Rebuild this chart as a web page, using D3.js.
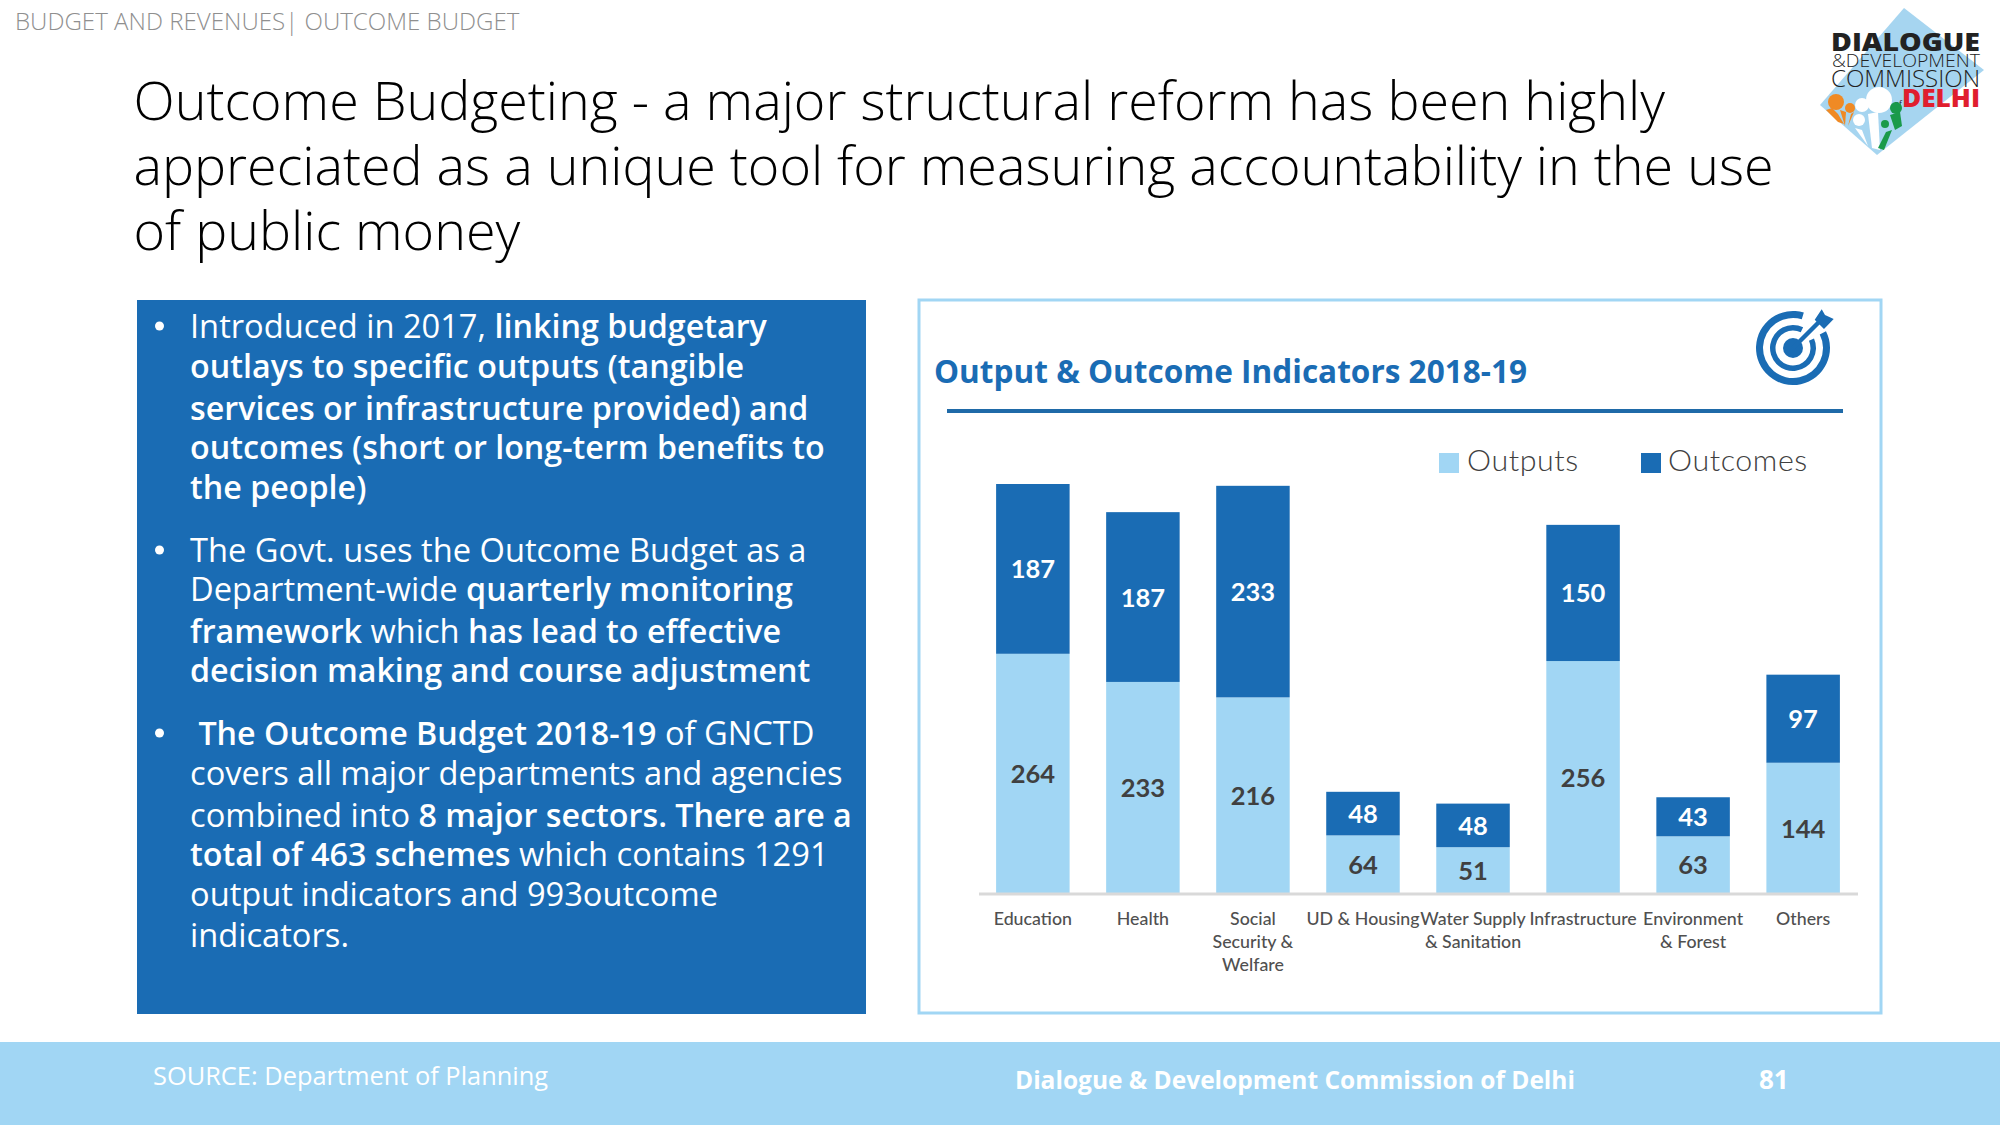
<!DOCTYPE html>
<html><head><meta charset="utf-8">
<script src="https://cdn.jsdelivr.net/npm/d3@7/dist/d3.min.js"></script>
<style>
html,body{margin:0;padding:0;background:#fff}
svg{display:block}
text{font-family:"Open Sans",sans-serif}
</style></head><body>
<svg id="c" width="2000" height="1125"></svg>
<script>
const categories=[["Education"],["Health"],["Social","Security &","Welfare"],["UD & Housing"],["Water Supply","& Sanitation"],["Infrastructure"],["Environment","& Forest"],["Others"]];
const outputs=[264,233,216,64,51,256,63,144];
const outcomes=[187,187,233,48,48,150,43,97];
const seriesNames=["Outputs","Outcomes"];
const titleLines=["Outcome Budgeting - a major structural reform has been highly","appreciated as a unique tool for measuring accountability in the use","of public money"];
const panelLines=[
 [[0,"Introduced in 2017, "],[1,"linking budgetary"]],
 [[1,"outlays to specific outputs (tangible"]],
 [[1,"services or infrastructure provided) and"]],
 [[1,"outcomes (short or long-term benefits to"]],
 [[1,"the people)"]],
 [[0,"The Govt. uses the Outcome Budget as a"]],
 [[0,"Department-wide "],[1,"quarterly monitoring"]],
 [[1,"framework "],[0,"which "],[1,"has lead to effective"]],
 [[1,"decision making and course adjustment"]],
 [[1," The Outcome Budget 2018-19 "],[0,"of GNCTD"]],
 [[0,"covers all major departments and agencies"]],
 [[0,"combined into "],[1,"8 major sectors. There are a"]],
 [[1,"total of 463 schemes "],[0,"which contains 1291"]],
 [[0,"output indicators and 993outcome"]],
 [[0,"indicators."]]];
const panelBaselines=[338,378,420,459,499,562,601,643,682,745,785,827,866,906,947];
const bulletLines=[0,5,9];

const DARK="#1a6cb4",LIGHT="#a1d6f4";
const svg=d3.select("#c");
svg.append("rect").attr("width",2000).attr("height",1125).attr("fill","#fff");

svg.append("text").attr("x",15).attr("y",30).attr("font-size",24.1).attr("font-weight",300).attr("fill","#8f8f8f").text("BUDGET AND REVENUES| OUTCOME BUDGET");
svg.append("g").selectAll("text").data(titleLines).join("text")
 .attr("x",133.5).attr("y",(d,i)=>120+i*65).attr("font-size",53.85).attr("font-weight",300).attr("fill","#000").text(d=>d);

// left panel
svg.append("rect").attr("x",137).attr("y",300).attr("width",729).attr("height",714).attr("fill",DARK);
const pl=svg.append("g");
panelLines.forEach((runs,i)=>{
  const t=pl.append("text").attr("x",190).attr("y",panelBaselines[i]).attr("fill","#fff").attr("xml:space","preserve").style("white-space","pre");
  runs.forEach(r=>t.append("tspan").attr("font-weight",r[0]?600:400).attr("font-size",r[0]?32.25:32.65).text(r[1]));
  if(bulletLines.includes(i)) pl.append("circle").attr("cx",159.5).attr("cy",panelBaselines[i]-12).attr("r",4.5).attr("fill","#fff");
});

// chart box
svg.append("rect").attr("x",919).attr("y",300).attr("width",962).attr("height",713).attr("fill","#fff").attr("stroke",LIGHT).attr("stroke-width",3);
svg.append("text").attr("x",934).attr("y",383).attr("font-size",33).attr("font-weight",700).attr("fill",DARK)
 .attr("textLength",593).attr("lengthAdjust","spacingAndGlyphs").text("Output & Outcome Indicators 2018-19");
svg.append("line").attr("x1",947).attr("x2",1843).attr("y1",411).attr("y2",411).attr("stroke","#1f6aa8").attr("stroke-width",4);

// target icon
const ic=svg.append("g").attr("transform","translate(1793,348)");
const ringArc=d3.arc();
ic.append("path").attr("fill",DARK).attr("d",ringArc({innerRadius:30,outerRadius:37,startAngle:1.1,endAngle:6.58}));
ic.append("path").attr("fill",DARK).attr("d",ringArc({innerRadius:17.5,outerRadius:23,startAngle:1.15,endAngle:6.74}));
ic.append("circle").attr("r",10).attr("fill",DARK);
ic.append("line").attr("x1",0).attr("y1",0).attr("x2",26).attr("y2",-26).attr("stroke",DARK).attr("stroke-width",4.5);
ic.append("path").attr("fill",DARK).attr("d","M21.7,-28.3L28.7,-38.7L32,-33L40.7,-29L31,-19Z");

// chart
const x=d3.scaleBand().domain(d3.range(categories.length)).range([978.5,1857.5]).paddingInner(0.332).paddingOuter(0.16);
const y=d3.scaleLinear().domain([0,451]).range([893.5,484]);
const g=svg.append("g");
g.selectAll("rect.o").data(outputs).join("rect").attr("class","o").attr("x",(d,i)=>x(i)).attr("width",x.bandwidth())
 .attr("y",d=>y(d)).attr("height",d=>y(0)-y(d)).attr("fill",LIGHT);
g.selectAll("rect.u").data(outcomes).join("rect").attr("class","u").attr("x",(d,i)=>x(i)).attr("width",x.bandwidth())
 .attr("y",(d,i)=>y(outputs[i]+d)).attr("height",d=>y(0)-y(d)).attr("fill",DARK);
const lblFont='Lato,sans-serif';
g.selectAll("text.lo").data(outputs).join("text").attr("class","lo").attr("x",(d,i)=>x(i)+x.bandwidth()/2).attr("y",d=>y(d/2)+9.5)
 .attr("text-anchor","middle").attr("font-size",25.5).attr("font-weight",700).style("font-family",lblFont).attr("fill","#404040").text(d=>d);
g.selectAll("text.lu").data(outcomes).join("text").attr("class","lu").attr("x",(d,i)=>x(i)+x.bandwidth()/2).attr("y",(d,i)=>y(outputs[i]+d/2)+9.5)
 .attr("text-anchor","middle").attr("font-size",25.5).attr("font-weight",700).style("font-family",lblFont).attr("fill","#fff").text(d=>d);

const xAxis=d3.axisBottom(x).tickSize(0).tickFormat("");
const ax=svg.append("g").attr("transform","translate(0,893.5)").call(xAxis);
ax.select(".domain").attr("stroke","#d9d9d9").attr("stroke-width",3);
ax.selectAll(".tick").each(function(d){
  const t=d3.select(this).select("text").attr("y",0).attr("dy",null).style("font-family",lblFont).attr("font-size",17.8).attr("font-weight",500).attr("fill","#505050").attr("text-anchor","middle");
  t.text(null);
  categories[d].forEach((s,i)=>t.append("tspan").attr("x",0).attr("y",31+i*23).text(s));
});

// legend
const lx=[1439,1641],ltx=[1467,1668],lc=[LIGHT,DARK];
seriesNames.forEach((n,i)=>{
  svg.append("rect").attr("x",lx[i]).attr("y",453).attr("width",20).attr("height",20).attr("fill",lc[i]);
  svg.append("text").attr("x",ltx[i]).attr("y",471).attr("font-size",30.4).attr("font-weight",300).attr("letter-spacing",0.6).style("font-family",lblFont).attr("fill","#404040").text(n);
});

// footer
svg.append("rect").attr("x",0).attr("y",1042).attr("width",2000).attr("height",83).attr("fill",LIGHT);
svg.append("text").attr("x",153).attr("y",1085).attr("font-size",25.4).attr("fill","#fff").text("SOURCE: Department of Planning");
svg.append("text").attr("x",1015).attr("y",1089).attr("font-size",24.5).attr("font-weight",700).attr("fill","#fff").text("Dialogue & Development Commission of Delhi");
svg.append("text").attr("x",1759).attr("y",1089).attr("font-size",26).attr("font-weight",700).attr("fill","#fff").text("81");

// logo
const lg=svg.append("g");
lg.append("polygon").attr("points","1904,8 1984,70 1877,155 1820,105").attr("fill","#a6d5f0");
const logoText=(s,xp,yp,fs,fw,col,len)=>lg.append("text").attr("x",xp).attr("y",yp).attr("font-size",fs).attr("font-weight",fw).attr("fill",col)
  .attr("textLength",len).attr("lengthAdjust","spacingAndGlyphs").text(s);
logoText("DIALOGUE",1831,51,25,800,"#222",149);
logoText("&DEVELOPMENT",1832,67,18.5,300,"#222",148);
logoText("COMMISSION",1831,87,24,300,"#222",149);
logoText("of",1894,107,9,400,"#222",8);
logoText("DELHI",1902,107,25,800,"#e01e2e",78);
[[1836,102,8,"#f08a24"],[1850,108,5,"#f08a24"],[1862,105,7,"#fff"],[1879,100,13,"#fff"],[1859,120,6,"#fff"],[1896,108,6,"#1a9a4a"],[1885,124,4,"#1a9a4a"]].forEach(c=>{
  lg.append("circle").attr("cx",c[0]).attr("cy",c[1]).attr("r",c[2]).attr("fill",c[3]);
});
[["M1826,110L1832,108L1838,114L1844,124L1838,122Z","#f08a24"],["M1840,110L1846,112L1845,126Z","#f08a24"],["M1851,114L1854,112L1848,126Z","#f08a24"],
 ["M1855,128L1862,130L1868,146Z","#fff"],["M1868,114L1878,112L1880,150L1872,148Z","#fff"],["M1890,115L1900,112L1902,126L1895,130Z","#1a9a4a"],["M1886,132L1892,130L1884,150L1878,148Z","#1a9a4a"]].forEach(p=>{
  lg.append("path").attr("d",p[0]).attr("fill",p[1]);
});
</script>
</body></html>
